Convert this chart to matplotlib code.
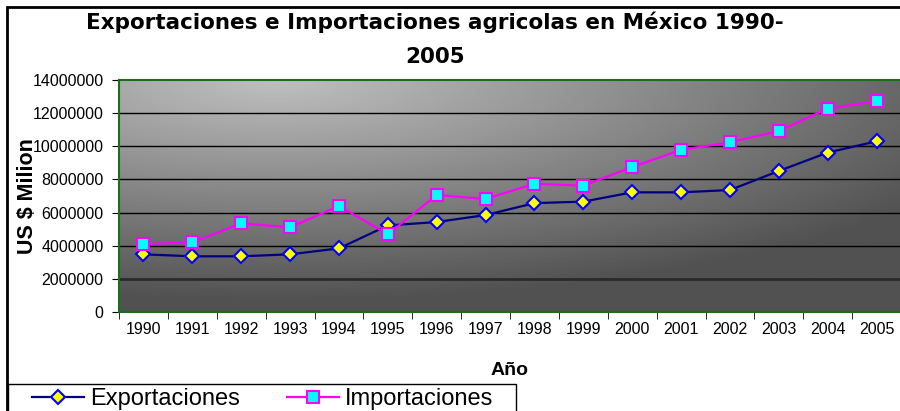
import numpy as np
import matplotlib.pyplot as plt
from matplotlib.patches import Rectangle

plt.rcParams['font.family'] = ['Liberation Sans', 'DejaVu Sans']

# Data (US $)
years = ['1990', '1991', '1992', '1993', '1994', '1995', '1996', '1997',
         '1998', '1999', '2000', '2001', '2002', '2003', '2004', '2005']
exportaciones = [3480000, 3360000, 3360000, 3480000, 3840000, 5220000, 5430000, 5850000,
                 6570000, 6660000, 7220000, 7220000, 7360000, 8510000, 9620000, 10300000]
importaciones = [4100000, 4200000, 5350000, 5110000, 6400000, 4690000, 7060000, 6820000,
                 7740000, 7620000, 8750000, 9780000, 10240000, 10920000, 12270000, 12730000]
yticks = np.arange(0, 14000001, 2000000)

fig = plt.figure(figsize=(9, 4.11), dpi=100)
ax = fig.add_axes([119 / 900, 99 / 411, 782 / 900, 232 / 411])

# gradient background of the plot area
gx, gy = np.meshgrid(np.linspace(0, 1, 300), np.linspace(0, 1, 150))
d = np.clip(np.sqrt(((gx - 0.2) / 1.0) ** 2 + ((gy - 1.0) / 0.95) ** 2), 0, 1.0)
shade = 0.75 - 0.43 * d
ax.imshow(shade, cmap='gray', vmin=0, vmax=1, origin='lower', aspect='auto',
          extent=(0, 1, 0, 1), transform=ax.transAxes, zorder=0)

x = np.arange(len(years))
for v in yticks[1:-1]:
    if v == 2000000:
        ax.axhline(v, color='#2a2a2a', lw=2, zorder=1)
    else:
        ax.axhline(v, color='black', lw=1, zorder=1)

ax.plot(x, exportaciones, color='#000080', lw=1.6, marker='D', markersize=7,
        markerfacecolor='yellow', markeredgecolor='#0000ff', markeredgewidth=1.5,
        label='Exportaciones', zorder=3)
ax.plot(x, importaciones, color='#ff00ff', lw=1.6, marker='s', markersize=8,
        markerfacecolor='cyan', markeredgecolor='#ff00ff', markeredgewidth=1.5,
        label='Importaciones', zorder=3)

ax.set_xlim(-0.5, len(years) - 0.5)
ax.set_ylim(0, 14000000)
ax.set_yticks(yticks)
ax.set_yticklabels([str(v) for v in yticks], fontsize=11.5)
ax.set_xticks(x)
ax.set_xticklabels(years, fontsize=11.5)
ax.set_xticks(np.arange(-0.5, len(years)), minor=True)
ax.tick_params(axis='x', which='major', length=0, pad=7)
ax.tick_params(axis='x', which='minor', length=5, direction='out', color='black')
ax.tick_params(axis='y', length=5, direction='out', pad=6)

for s in ['top', 'bottom', 'left']:
    ax.spines[s].set_color('#1a6e1a')
    ax.spines[s].set_linewidth(1.5)
ax.spines['right'].set_visible(False)

ax.set_xlabel('Año', fontsize=14, fontweight='bold', labelpad=18)
ax.set_ylabel('US $ Milion', fontsize=15.5, fontweight='bold')
ax.yaxis.set_label_coords(-0.104, 0.5)

fig.text(0.483, 0.904, 'Exportaciones e Importaciones agricolas en México 1990-\n2005',
         ha='center', va='center', fontsize=15.5, fontweight='bold', linespacing=1.85,
         family=['DejaVu Sans'])

# outer chart border (cropped at right and bottom)
fig.patches.append(Rectangle((7 / 900, -0.1), 1.2, 404 / 411 + 0.1, transform=fig.transFigure,
                             fill=False, edgecolor='black', lw=2))
# legend box
fig.patches.append(Rectangle((8 / 900, -0.1), 508 / 900, 27 / 411 + 0.1, transform=fig.transFigure,
                             fill=False, edgecolor='black', lw=1))
fig.legend(loc='center left', bbox_to_anchor=(32 / 900, 12 / 411), ncol=2, frameon=False,
           fontsize=17, handlelength=2.2, handletextpad=0.25, columnspacing=2.0,
           borderpad=0, borderaxespad=0)

fig.savefig('out.png', dpi=100)
